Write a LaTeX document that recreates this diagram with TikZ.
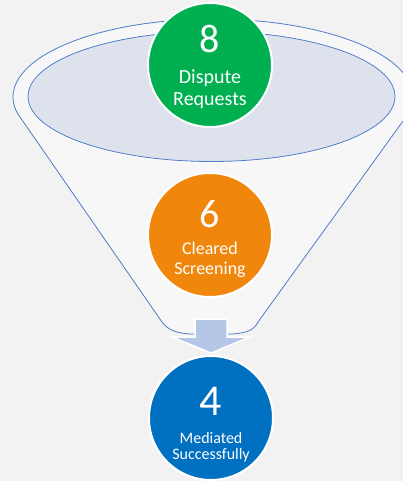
\documentclass[tikz,border=0pt]{standalone}
\usepackage{fontspec}
\setmainfont{Carlito}
\definecolor{bg}{RGB}{242,242,242}
\definecolor{funnelfill}{RGB}{247,247,247}
\definecolor{rimblue}{RGB}{79,124,200}
\definecolor{innerfill}{RGB}{221,226,236}
\definecolor{arrowfill}{RGB}{180,199,231}
\definecolor{cgreen}{RGB}{0,176,80}
\definecolor{corange}{RGB}{240,134,12}
\definecolor{cblue}{RGB}{0,112,192}
\tikzset{
  bubble/.style={circle, draw=white, line width=2pt, minimum size=124pt, inner sep=0pt},
  digit/.style={text=white, inner sep=0pt, anchor=base},
  lbl/.style={text=white, inner sep=0pt, anchor=base},
}
\begin{document}
\begin{tikzpicture}[x=1pt,y=-1pt]
\useasboundingbox (0,0) rectangle (403,481);
\fill[bg] (0,0) rectangle (403,481);
% funnel body
\path[fill=funnelfill, draw=rimblue, line width=0.8pt]
  plot[domain=168:372, samples=90, smooth] ({213+200*cos(\x)}, {97+78*sin(\x)})
  -- (258,322)
  .. controls (254,330) and (247,333) .. (232,334)
  -- (190,334)
  .. controls (176,333) and (168,330) .. (162,322)
  -- cycle;
% inner ellipse
\draw[white, line width=2.5pt] (211.5,96.5) ellipse [x radius=183.5, y radius=65];
\draw[fill=innerfill, draw=rimblue, line width=0.8pt] (211.5,96.5) ellipse [x radius=183.5, y radius=65];
% circles
\node[bubble, fill=cgreen] (c1) at (210,65) {};
\node[bubble, fill=corange] (c2) at (210,235) {};
% arrow
\draw[fill=arrowfill, draw=white, line width=1.5pt, line join=miter]
  (195,319) -- (227,319) -- (227,337) -- (250,337) -- (211,353) -- (172,337) -- (195,337) -- cycle;
\node[bubble, fill=cblue] (c3) at (211,418) {};
% texts
\node[digit, font=\fontsize{40}{40}\selectfont] (d1) at (210,53) {8};
\node[lbl, font=\fontsize{20}{22}\selectfont] (t1a) at (210,83.5) {Dispute};
\node[lbl, font=\fontsize{20}{22}\selectfont] (t1b) at (210,106) {Requests};
\node[digit, font=\fontsize{40}{40}\selectfont] (d2) at (210,227) {6};
\node[lbl, font=\fontsize{18}{20}\selectfont] (t2a) at (210,254) {Cleared};
\node[lbl, font=\fontsize{18}{20}\selectfont] (t2b) at (210,274) {Screening};
\node[digit, font=\fontsize{44}{44}\selectfont] (d3) at (211,415) {4};
\node[lbl, font=\fontsize{16}{17}\selectfont] (t3a) at (211,443) {Mediated};
\node[lbl, font=\fontsize{16}{17}\selectfont] (t3b) at (211,459) {Successfully};
\end{tikzpicture}
\end{document}
